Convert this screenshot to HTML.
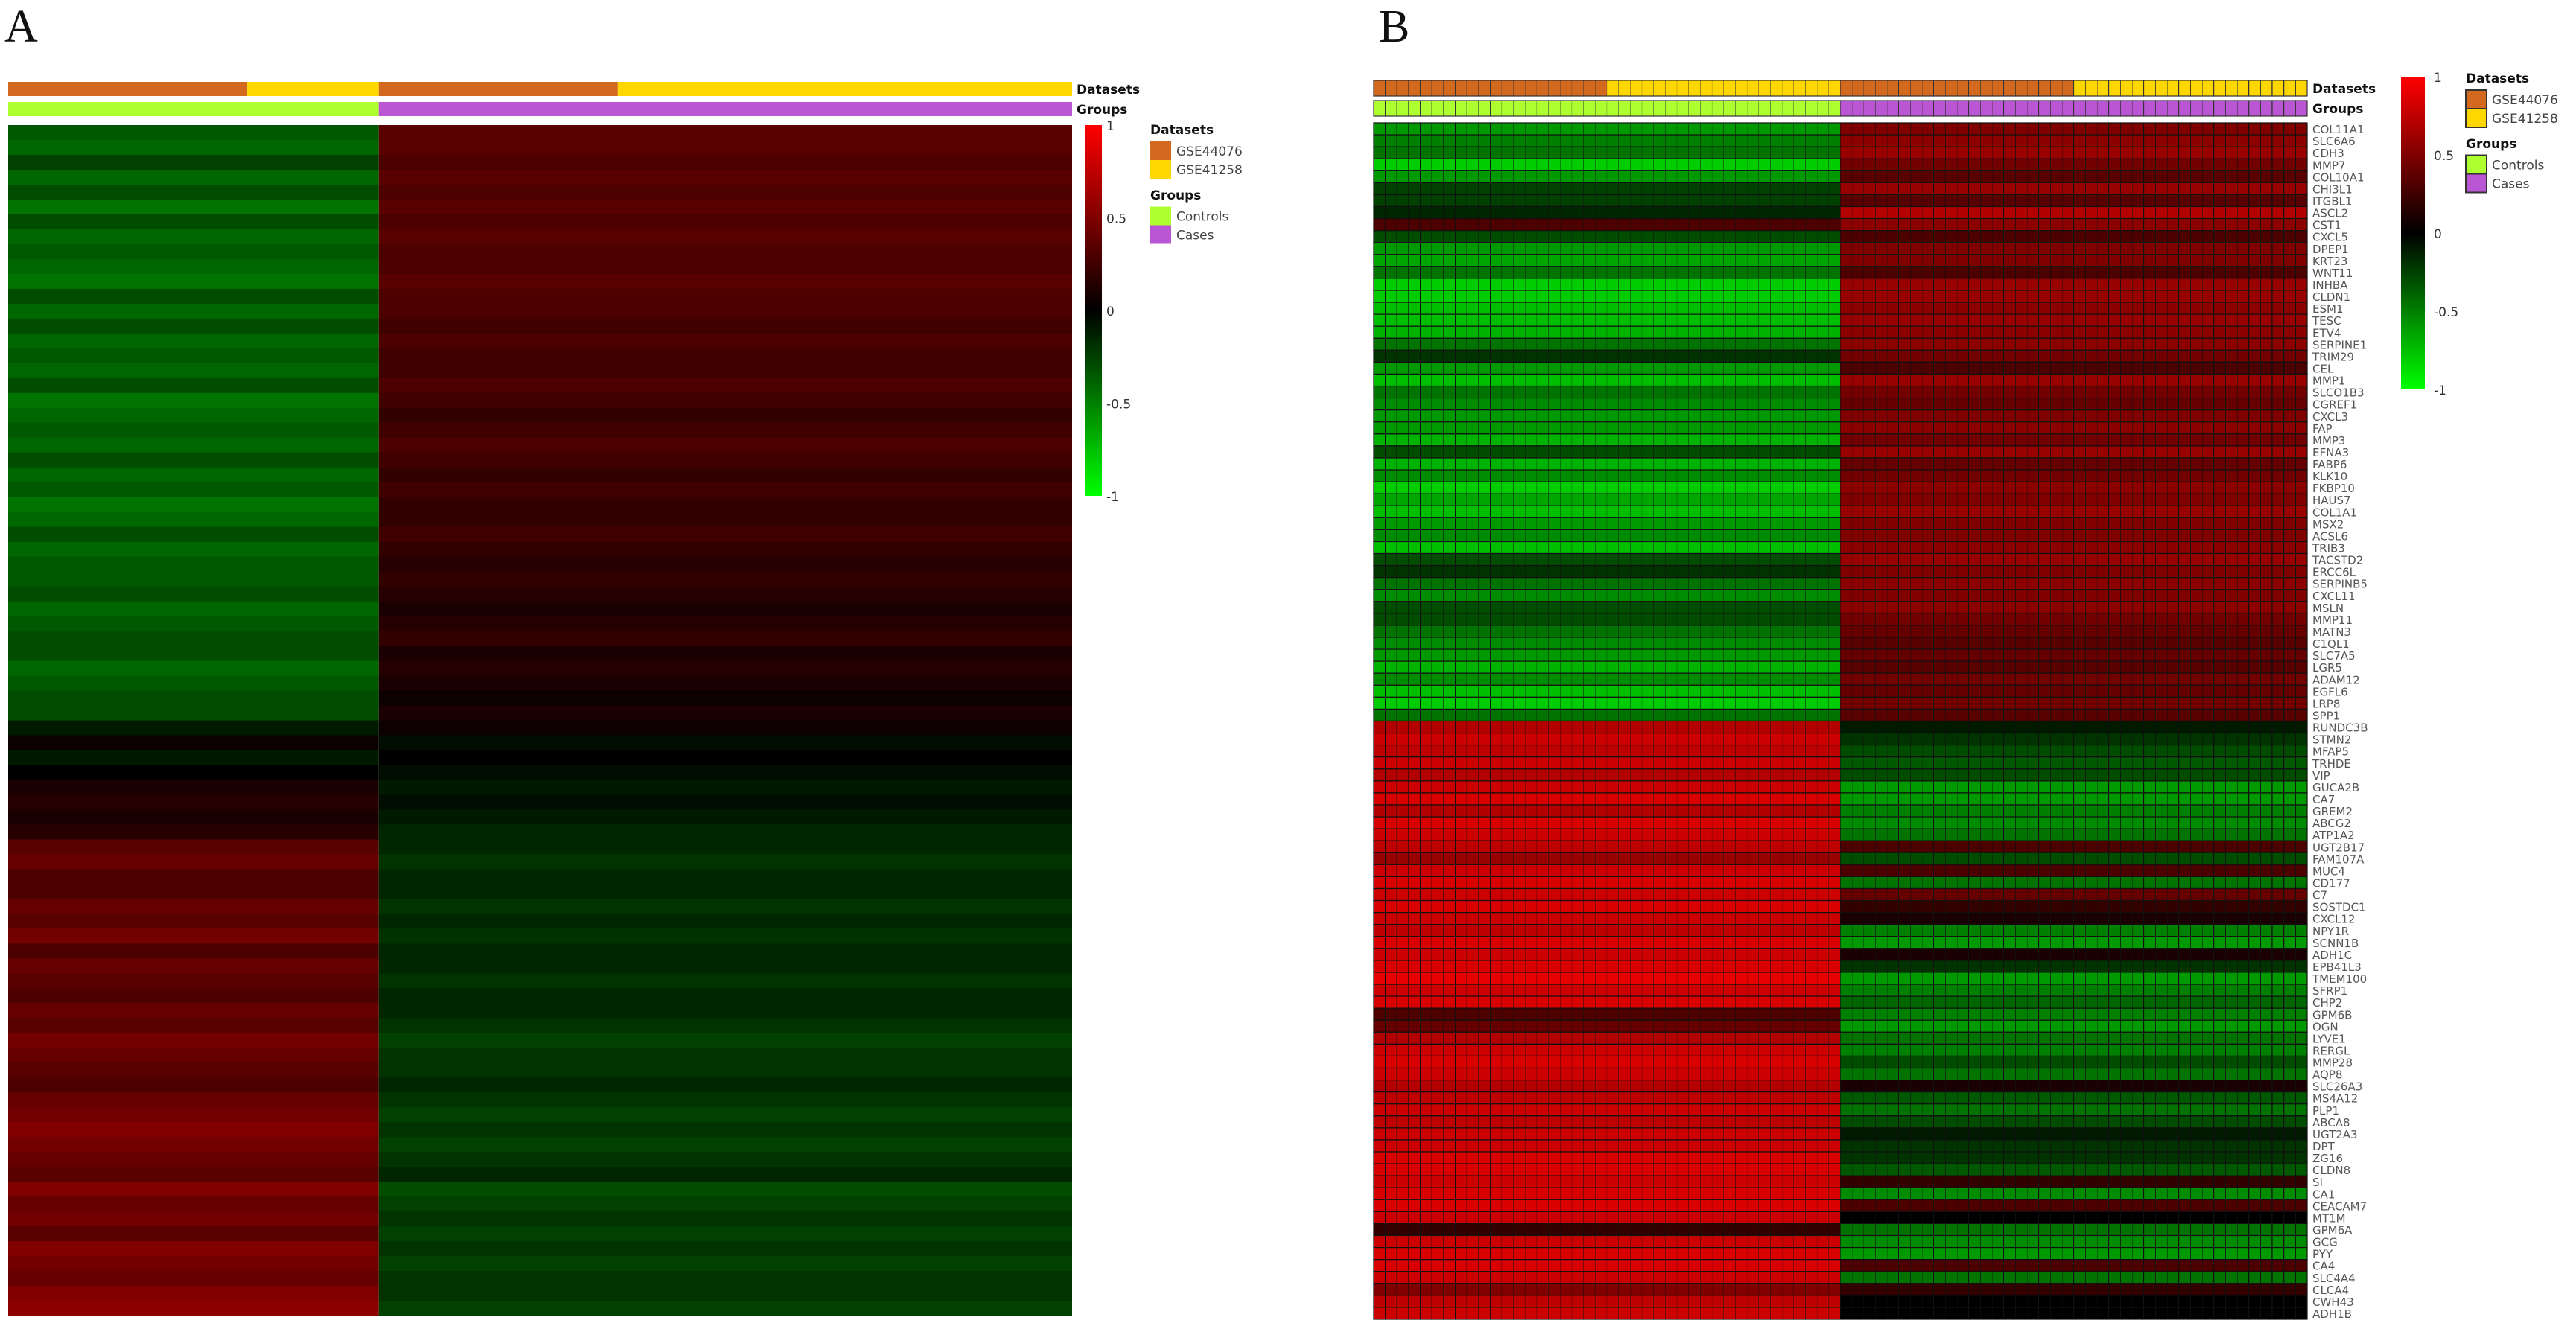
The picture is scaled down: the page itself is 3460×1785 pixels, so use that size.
<!DOCTYPE html>
<html><head><meta charset="utf-8">
<style>
html,body{margin:0;padding:0;background:#fff;}
svg{display:block;}
text{font-family:"DejaVu Sans","Liberation Sans",sans-serif;}
.lbl{font-size:15px;fill:#555;}
.bold{font-weight:bold;font-size:17px;fill:#111;}
.tick{font-size:17px;fill:#333;}
.leg{font-size:17px;fill:#444;}
.panel{font-family:"Liberation Serif",serif;font-size:62px;fill:#111;}
</style></head>
<body>
<svg id="chart" width="3460" height="1785" viewBox="0 0 3460 1785" xmlns="http://www.w3.org/2000/svg">
<text class="panel" x="6" y="56">A</text>
<text class="panel" x="1852" y="56">B</text>
<g id="gA"></g>
<g id="gB"></g>
<defs>
<linearGradient id="cb" x1="0" y1="0" x2="0" y2="1">
<stop offset="0" stop-color="#ff0000"/><stop offset="0.5" stop-color="#000000"/><stop offset="1" stop-color="#00ff00"/>
</linearGradient>
</defs>
</svg>
<script>
// ---------- Panel B data ----------
const genesB = ["COL11A1","SLC6A6","CDH3","MMP7","COL10A1","CHI3L1","ITGBL1","ASCL2","CST1","CXCL5","DPEP1","KRT23","WNT11","INHBA","CLDN1","ESM1","TESC","ETV4","SERPINE1","TRIM29","CEL","MMP1","SLCO1B3","CGREF1","CXCL3","FAP","MMP3","EFNA3","FABP6","KLK10","FKBP10","HAUS7","COL1A1","MSX2","ACSL6","TRIB3","TACSTD2","ERCC6L","SERPINB5","CXCL11","MSLN","MMP11","MATN3","C1QL1","SLC7A5","LGR5","ADAM12","EGFL6","LRP8","SPP1",
"RUNDC3B","STMN2","MFAP5","TRHDE","VIP","GUCA2B","CA7","GREM2","ABCG2","ATP1A2","UGT2B17","FAM107A","MUC4","CD177","C7","SOSTDC1","CXCL12","NPY1R","SCNN1B","ADH1C","EPB41L3","TMEM100","SFRP1","CHP2","GPM6B","OGN","LYVE1","RERGL","MMP28","AQP8","SLC26A3","MS4A12","PLP1","ABCA8","UGT2A3","DPT","ZG16","CLDN8","SI","CA1","CEACAM7","MT1M","GPM6A","GCG","PYY","CA4","SLC4A4","CLCA4","CWH43","ADH1B"];
const ctrlB = [-0.6,-0.5,-0.45,-0.8,-0.6,-0.25,-0.25,-0.15,0.3,-0.3,-0.6,-0.65,-0.45,-0.8,-0.8,-0.75,-0.75,-0.7,-0.45,-0.2,-0.6,-0.75,-0.45,-0.55,-0.6,-0.6,-0.7,-0.3,-0.7,-0.55,-0.8,-0.65,-0.75,-0.6,-0.55,-0.75,-0.3,-0.2,-0.45,-0.55,-0.3,-0.3,-0.45,-0.55,-0.6,-0.7,-0.55,-0.75,-0.8,-0.45,
0.7,0.8,0.75,0.8,0.7,0.8,0.85,0.7,0.85,0.8,0.75,0.6,0.8,0.85,0.8,0.85,0.8,0.75,0.85,0.8,0.85,0.9,0.8,0.85,0.3,0.4,0.7,0.8,0.85,0.8,0.7,0.75,0.8,0.75,0.8,0.8,0.85,0.85,0.8,0.85,0.85,0.8,0.2,0.8,0.85,0.85,0.8,0.5,0.75,0.8];
const caseB = [0.5,0.55,0.6,0.45,0.35,0.6,0.35,0.7,0.55,0.3,0.5,0.5,0.3,0.6,0.6,0.55,0.6,0.55,0.55,0.45,0.3,0.6,0.45,0.4,0.5,0.55,0.45,0.6,0.4,0.45,0.55,0.5,0.6,0.5,0.5,0.55,0.6,0.5,0.55,0.5,0.55,0.45,0.4,0.35,0.4,0.35,0.45,0.4,0.45,0.35,
-0.1,-0.2,-0.3,-0.35,-0.3,-0.6,-0.6,-0.5,-0.55,-0.45,0.3,-0.3,0.3,-0.45,0.4,0.2,0.1,-0.5,-0.6,0.1,-0.2,-0.6,-0.5,-0.4,-0.5,-0.6,-0.45,-0.5,-0.3,-0.45,0.1,-0.35,-0.45,-0.3,-0.1,-0.2,-0.2,-0.35,0.2,-0.55,0.3,0,-0.45,-0.55,-0.6,0.3,-0.45,0.2,0,0];
const nCtrlB = 40, nCaseB = 40;
const datasetsB = ["GSE44076","GSE41258","GSE44076","GSE41258"];
const blockSizeB = [20,20,20,20];

// ---------- Panel A data (row bands, top to bottom) ----------
const ctrlA = [-0.35,-0.4,-0.25,-0.4,-0.3,-0.45,-0.3,-0.4,-0.35,-0.4,-0.45,-0.3,-0.4,-0.3,-0.4,-0.35,-0.4,-0.3,-0.45,-0.4,-0.35,-0.4,-0.3,-0.4,-0.35,-0.45,-0.4,-0.3,-0.4,-0.35,-0.35,-0.3,-0.4,-0.35,-0.3,-0.3,-0.4,-0.35,-0.3,-0.3,
-0.1,0.05,-0.1,0,0.1,0.15,0.1,0.15,
0.35,0.4,0.3,0.3,0.4,0.35,0.45,0.3,0.4,0.35,0.3,0.4,0.35,0.45,0.4,0.35,0.3,0.4,0.45,0.5,0.45,0.4,0.35,0.5,0.4,0.45,0.35,0.5,0.45,0.4,0.5,0.55];
const caseA = [0.35,0.35,0.3,0.35,0.3,0.35,0.3,0.35,0.3,0.3,0.35,0.3,0.3,0.25,0.3,0.25,0.25,0.3,0.25,0.2,0.25,0.3,0.25,0.2,0.25,0.2,0.2,0.25,0.2,0.15,0.2,0.15,0.1,0.15,0.2,0.1,0.15,0.1,0.05,0.1,
0.05,-0.05,0,-0.05,-0.1,-0.05,-0.1,-0.15,
-0.15,-0.2,-0.15,-0.15,-0.2,-0.15,-0.2,-0.15,-0.15,-0.2,-0.15,-0.15,-0.2,-0.25,-0.2,-0.2,-0.15,-0.2,-0.25,-0.2,-0.25,-0.2,-0.15,-0.3,-0.25,-0.2,-0.25,-0.2,-0.25,-0.2,-0.2,-0.25];
const datasetsA = ["GSE44076","GSE41258","GSE44076","GSE41258"];
const blockSizeA = [20,11,20,38];
const nCtrlA = 31;

const dsColor = {"GSE44076":"#d2691e","GSE41258":"#ffd700"};
const grpColor = {"Controls":"#adff2f","Cases":"#ba55d3"};
const cbTicks = [1,0.5,0,-0.5,-1];
const cbTickLabels = ["1","0.5","0","-0.5","-1"];

const NS = "http://www.w3.org/2000/svg";
function col(v){
  v=Math.max(-1,Math.min(1,v));
  if(v>=0) return "rgb("+Math.round(255*v)+",0,0)";
  return "rgb(0,"+Math.round(-255*v)+",0)";
}
function mk(tag,attrs,parent){
  const e=document.createElementNS(NS,tag);
  for(const k in attrs) e.setAttribute(k,attrs[k]);
  parent.appendChild(e); return e;
}

// ---------- Panel A ----------
(function(){
  const g=document.getElementById('gA');
  const x0=11,x1=1440,top=168,bot=1767;
  const nCols=blockSizeA.reduce((a,b)=>a+b,0);
  const cw=(x1-x0)/nCols;
  const xA=i=>x0+i*cw;
  let c=0;
  blockSizeA.forEach((n,b)=>{
    const r=mk('rect',{x:xA(c),y:110,width:n*cw,height:19,fill:dsColor[datasetsA[b]]},g);
    
    
    c+=n;
  });
  const gc=mk('rect',{x:xA(0),y:137,width:nCtrlA*cw,height:19,fill:grpColor.Controls},g);
  
  
  const gk=mk('rect',{x:xA(nCtrlA),y:137,width:(nCols-nCtrlA)*cw,height:19,fill:grpColor.Cases},g);
  
  
  const nb=ctrlA.length, bh=(bot-top)/nb;
  const yA=i=>top+i*bh;
  for(let i=0;i<nb;i++){
    const a=mk('rect',{x:xA(0),y:yA(i),width:nCtrlA*cw,height:bh+0.5,fill:col(ctrlA[i])},g);
    
    
    const b=mk('rect',{x:xA(nCtrlA),y:yA(i),width:(nCols-nCtrlA)*cw,height:bh+0.5,fill:col(caseA[i])},g);
    
    
  }
  const t1=mk('text',{x:1446,y:126,class:'bold'},g); t1.textContent='Datasets';
  
  
  const t2=mk('text',{x:1446,y:153,class:'bold'},g); t2.textContent='Groups';
  
  
  legend(g,1458,168,666,1545,'a');
})();

// ---------- Panel B ----------
(function(){
  const g=document.getElementById('gB');
  const x0=1845,x1=3099,top=165,bot=1772;
  const nCols=nCtrlB+nCaseB, cw=(x1-x0)/nCols, rh=(bot-top)/genesB.length;
  const xB=i=>x0+i*cw, yB=i=>top+i*rh;
  let c=0;
  blockSizeB.forEach((n,b)=>{
    for(let j=0;j<n;j++){
      const r=mk('rect',{x:xB(c+j),y:108,width:cw,height:21,fill:dsColor[datasetsB[b]],stroke:'#333','stroke-width':1.2},g);
      
      
    }
    c+=n;
  });
  for(let j=0;j<nCols;j++){
    const r=mk('rect',{x:xB(j),y:135,width:cw,height:21,fill:j<nCtrlB?grpColor.Controls:grpColor.Cases,stroke:'#333','stroke-width':1.2},g);
    
    
  }
  genesB.forEach((gn,i)=>{
    for(let j=0;j<nCols;j++){
      const v=j<nCtrlB?ctrlB[i]:caseB[i];
      const r=mk('rect',{x:xB(j),y:yB(i),width:cw,height:rh,fill:col(v),stroke:'#111','stroke-width':1.2},g);
      
      
    }
    const t=mk('text',{x:3106,y:yB(i)+rh-2,class:'lbl'},g); t.textContent=gn;
    
    
  });
  const t1=mk('text',{x:3106,y:125,class:'bold'},g); t1.textContent='Datasets';
  
  
  const t2=mk('text',{x:3106,y:152,class:'bold'},g); t2.textContent='Groups';
  
  
  legend(g,3225,103,523,3312,'b');
})();

function legend(g,cx,ct,cbtm,lx,p){
  const cb=mk('rect',{x:cx,y:ct,width:p==='a'?22:32,height:cbtm-ct,fill:'url(#cb)'},g);
  
  
  const yc=v=>ct+(1-v)/2*(cbtm-ct);
  cbTicks.forEach((v,i)=>{
    const t=mk('text',{x:cx+(p==='a'?28:44),y:yc(v)+7,class:'tick'},g); t.textContent=cbTickLabels[i];
    
    
  });
  const ly=p==='a'?ct+12:ct+8;
  const d=mk('text',{x:lx,y:ly,class:'bold'},g); d.textContent='Datasets';
  
  
  const items=[["GSE44076",dsColor.GSE44076,0],["GSE41258",dsColor.GSE41258,1],["Controls",grpColor.Controls,3.5],["Cases",grpColor.Cases,4.5]];
  const gt=mk('text',{x:lx,y:ly+88,class:'bold'},g); gt.textContent='Groups';
  
  
  items.forEach(it=>{
    const y=ly+10+it[2]*25;
    const r=mk('rect',{x:lx,y:y,width:28,height:25,fill:it[1],stroke:'#333','stroke-width':p==='b'?2:0},g);
    
    
    const t=mk('text',{x:lx+35,y:y+19,class:'leg'},g); t.textContent=it[0];
    
    
  });
}
</script>
</body></html>
